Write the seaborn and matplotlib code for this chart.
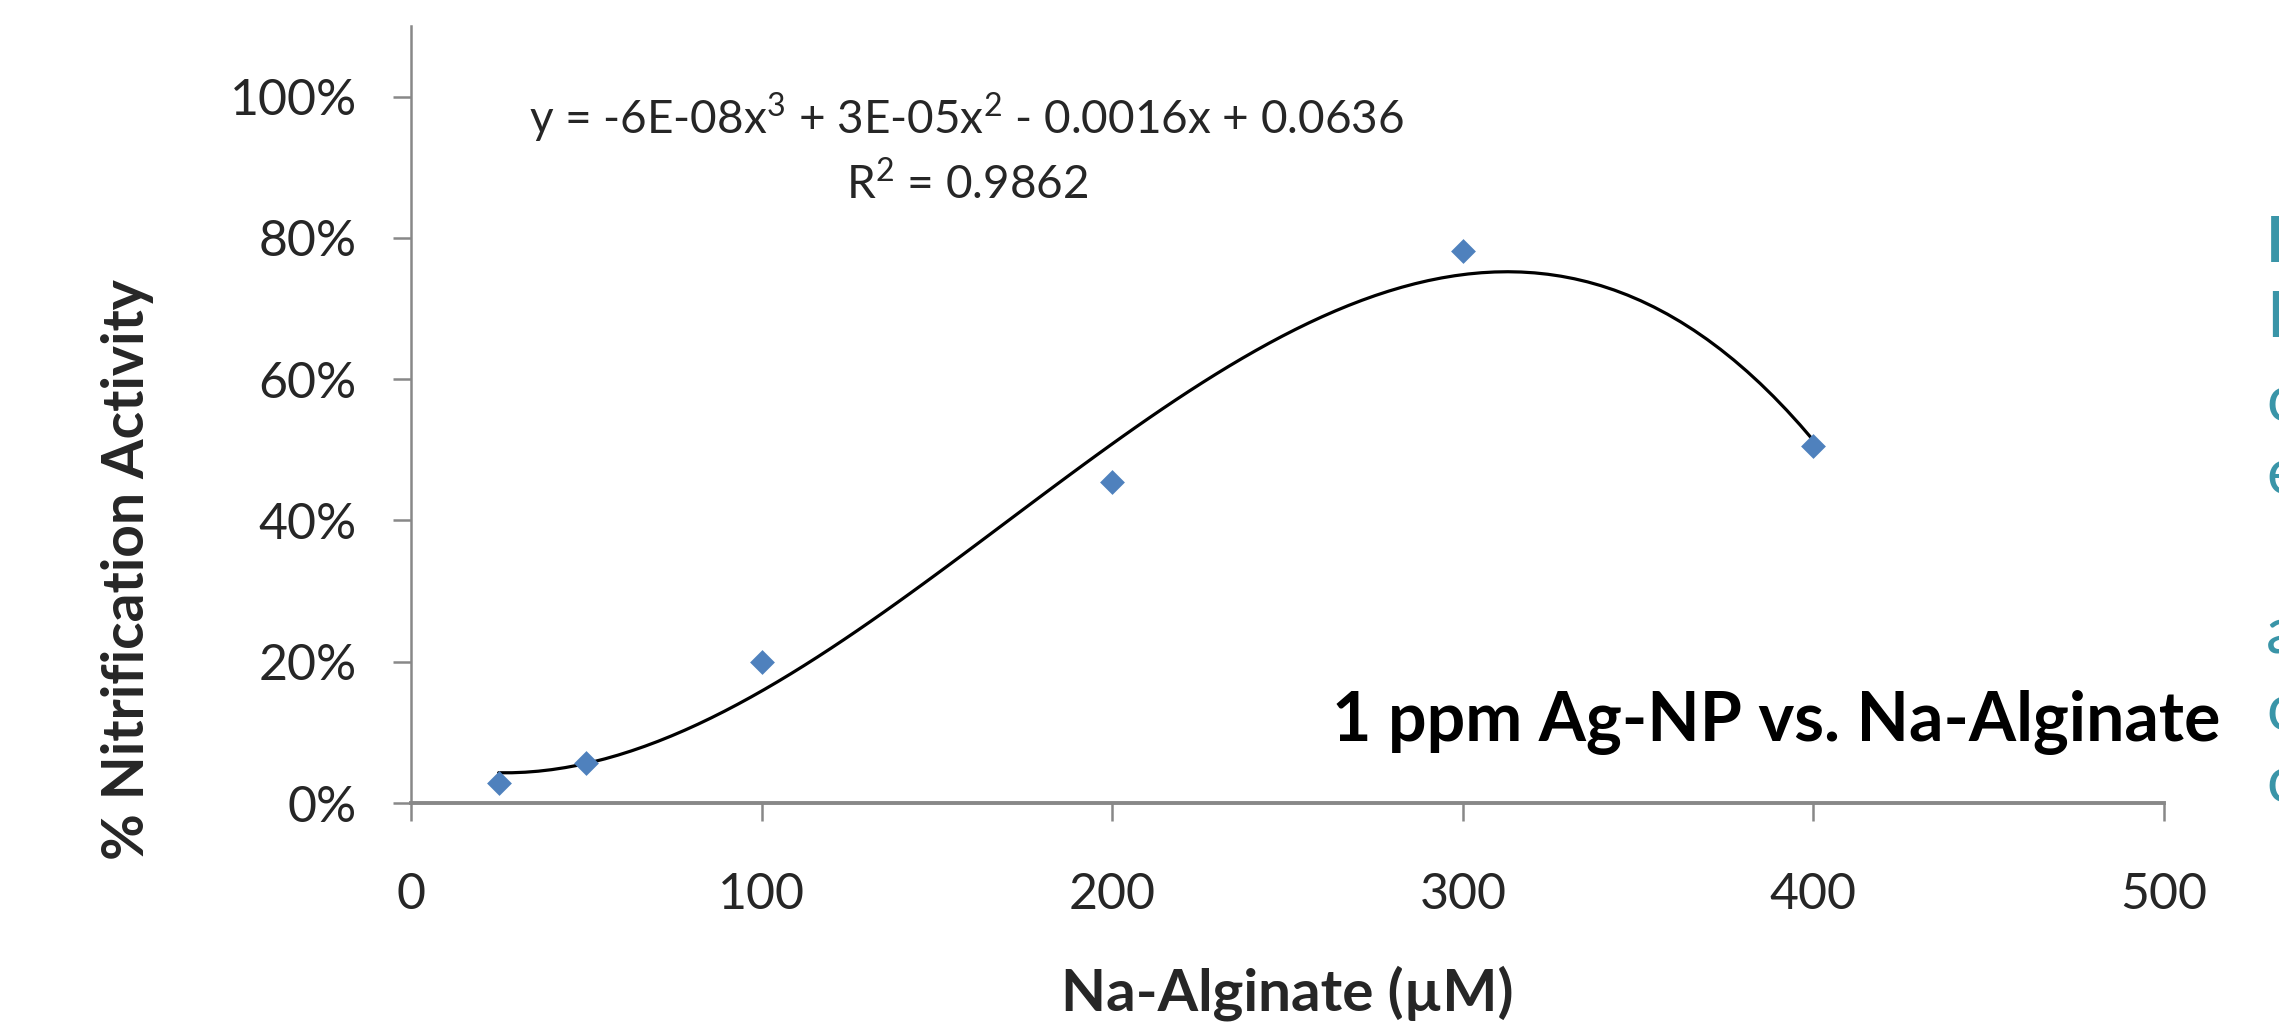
import matplotlib
matplotlib.use("Agg")
import matplotlib.pyplot as plt
import seaborn as sns
import pandas as pd
from matplotlib.ticker import PercentFormatter

# Data
alginate_uM = [25, 50, 100, 200, 300, 400]
nitrification = [0.029, 0.056, 0.200, 0.455, 0.782, 0.505]
x_ticks = [0, 100, 200, 300, 400, 500]
y_ticks = [0.0, 0.2, 0.4, 0.6, 0.8, 1.0]
equation_text = "y = -6E-08x$^3$ + 3E-05x$^2$ - 0.0016x + 0.0636"
r2_text = "R$^2$ = 0.9862"
chart_title = "1 ppm Ag-NP vs. Na-Alginate"
side_letters = ["I", "F", "c", "e", "a", "c", "c"]
side_letter_baseline = [262, 337, 421, 494, 653, 730, 802]

sns.set_theme(style="white")
plt.rcParams['font.family'] = ['Lato', 'DejaVu Sans']
plt.rcParams['mathtext.fontset'] = 'custom'
plt.rcParams['mathtext.rm'] = 'Lato'

df = pd.DataFrame({"x": alginate_uM, "y": nitrification})

W, H = 2279, 1023
fig = plt.figure(figsize=(W / 100, H / 100), dpi=100)
ax_bottom_px = H - 803
ax_h_px = 803 - 26
ax = fig.add_axes([411 / W, ax_bottom_px / H, (2164 - 411) / W, ax_h_px / H])

sns.regplot(data=df, x="x", y="y", order=3, ci=None, scatter=False, truncate=True,
            line_kws=dict(color="black", lw=2.3), ax=ax)
sns.scatterplot(data=df, x="x", y="y", marker="D", s=160, color="#4F81BD",
                edgecolor="#4F81BD", linewidth=0, ax=ax, zorder=5)

ax.set_xlim(0, 500)
ax.set_ylim(0, 1.1)
ax.set_xticks(x_ticks)
ax.set_yticks(y_ticks)
ax.yaxis.set_major_formatter(PercentFormatter(1.0, decimals=0))
ax.tick_params(axis="both", which="major", direction="out", length=13, width=1.8,
               color="#888888", labelsize=36, left=True, bottom=True)
ax.tick_params(axis="x", pad=37)
ax.tick_params(axis="y", pad=26)

for side in ["top", "right"]:
    ax.spines[side].set_visible(False)
ax.spines["left"].set_color("#888888")
ax.spines["left"].set_linewidth(1.8)
ax.spines["bottom"].set_color("#888888")
ax.spines["bottom"].set_linewidth(2.8)

ax.set_xlabel("Na-Alginate (µM)", fontsize=42, fontweight="bold")
ax.set_ylabel("% Nitrification Activity", fontsize=41, fontweight="bold")
ax.xaxis.label.set_va("center")
ax.yaxis.label.set_va("center")
ax.xaxis.set_label_coords(0.5, (H - 993 - ax_bottom_px) / ax_h_px)
ax.yaxis.set_label_coords((128 - 411) / (2164 - 411), (H - 570 - ax_bottom_px) / ax_h_px)

fig.text(967 / W, 1 - 134 / H, equation_text, ha="center", va="baseline", fontsize=33)
fig.text(967 / W, 1 - 199 / H, r2_text, ha="center", va="baseline", fontsize=33)
fig.text(2220 / W, 1 - 741 / H, chart_title, ha="right", va="baseline",
         fontsize=49, fontweight="bold", color="black")

for i, (ch, yy) in enumerate(zip(side_letters, side_letter_baseline)):
    fig.text(2266 / W, 1 - yy / H, ch, ha="left", va="baseline", fontsize=46,
             fontweight="bold" if i == 0 else "normal", color="#3A95A8")

fig.savefig("out.png", dpi=100)
